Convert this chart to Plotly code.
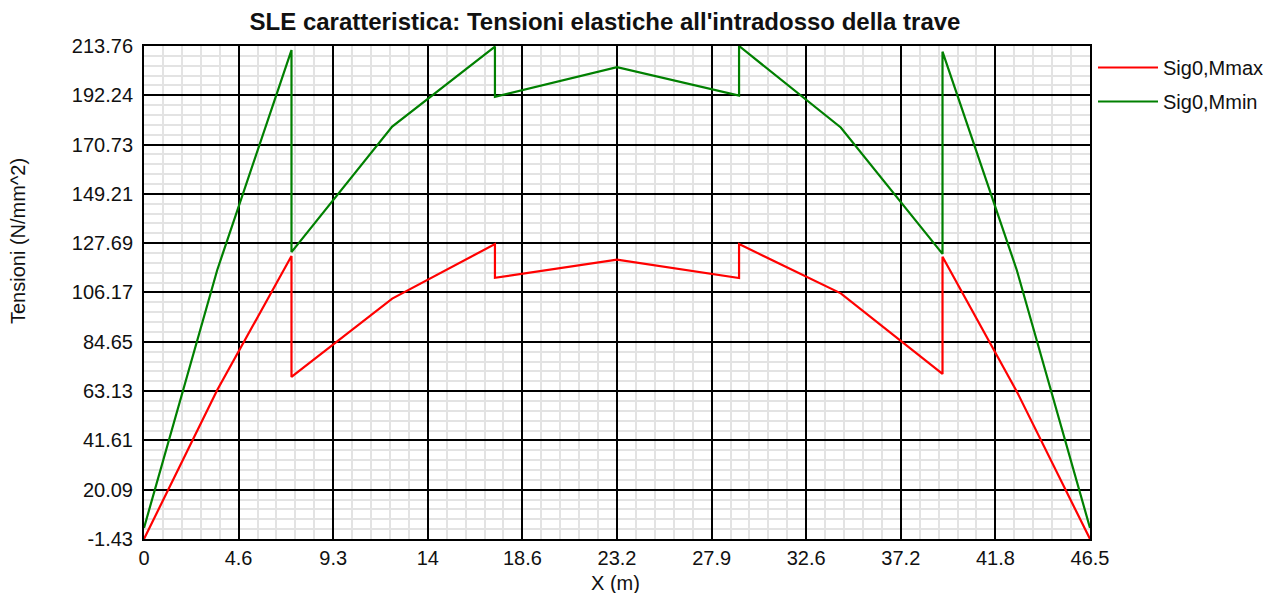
import plotly.graph_objects as go
import numpy as np

# ---- data ----
x_pos = [0, 3.6, 7.25, 7.25, 12.2, 17.25, 17.25, 23.25, 29.25, 29.25, 34.25, 39.25, 39.25, 42.9, 46.5]
sig_mmax = [-1.43, 63.6, 122.1, 69.3, 103.5, 127.3, 112.6, 120.5, 112.5, 127.3, 105.8, 70.6, 121.8, 63.0, -1.43]
sig_mmin = [3.4, 116.0, 212.0, 123.8, 178.6, 213.5, 191.6, 204.5, 192.1, 213.76, 178.2, 123.0, 211.3, 116.0, 3.4]

x_tickvals = [0, 4.65, 9.3, 13.95, 18.6, 23.25, 27.9, 32.55, 37.2, 41.85, 46.5]
x_ticktext = ["0", "4.6", "9.3", "14", "18.6", "23.2", "27.9", "32.6", "37.2", "41.8", "46.5"]
y_ticktext = ["-1.43", "20.09", "41.61", "63.13", "84.65", "106.17", "127.69", "149.21", "170.73", "192.24", "213.76"]
y_tickvals = [float(t) for t in y_ticktext]

title = "SLE caratteristica: Tensioni elastiche all'intradosso della trave"
font_family = "Liberation Sans, Arial, sans-serif"

# minor grid positions (5 subdivisions between major lines)
def minor_between(vals, n=5):
    out = []
    for a, b in zip(vals[:-1], vals[1:]):
        for k in range(1, n):
            out.append(a + (b - a) * k / n)
    return out

x_minor = minor_between(x_tickvals)
y_lo, y_hi = -1.43, 213.76
y_major_even = list(np.linspace(y_lo, y_hi, 11))
y_minor = minor_between(y_major_even)

fig = go.Figure()
fig.add_trace(go.Scatter(x=x_pos, y=sig_mmax, mode="lines", name="Sig0,Mmax",
                         line=dict(color="#ff0000", width=2.2), legendgroup="a"))
fig.add_trace(go.Scatter(x=x_pos, y=sig_mmin, mode="lines", name="Sig0,Mmin",
                         line=dict(color="#008000", width=2.2), legendgroup="b"))

# page body has an 8px margin: compensate
OFF = 8
W, H = 1271 - OFF, 593 - OFF
L, R, T, B = 144 - OFF, 181, 46 - OFF, 54
pw, ph = W - L - R, H - T - B

def px_x(px):  # page px -> paper x
    return (px - OFF - L) / pw

def px_y(py):  # page px -> paper y
    return (H - B - (py - OFF)) / ph

fig.update_layout(
    width=W, height=H,
    margin=dict(l=L, r=R, t=T, b=B, autoexpand=False),
    paper_bgcolor="white", plot_bgcolor="white",
    font=dict(family=font_family, size=20, color="#111111"),
    title=dict(text=title, x=(605 - OFF) / W, xanchor="center", xref="container",
               y=1 - (22 - OFF) / H, yanchor="middle", yref="container",
               font=dict(family=font_family, size=24, color="#111111", weight="bold")),
    showlegend=True,
    legend=dict(x=px_x(1093), xanchor="left", y=px_y(48), yanchor="top",
                font=dict(size=20), itemwidth=60, tracegroupgap=5,
                bgcolor="rgba(0,0,0,0)"),
    xaxis=dict(range=[0, 46.5], tickmode="array", tickvals=x_tickvals, ticktext=x_ticktext,
               showgrid=True, gridcolor="black", gridwidth=2,
               showline=True, linecolor="black", linewidth=2, mirror=True,
               zeroline=False, ticks="",
               tickfont=dict(size=20),
               minor=dict(tickvals=x_minor, showgrid=True, gridcolor="#e3e3e3", gridwidth=1.5)),
    yaxis=dict(range=[y_lo, y_hi], tickmode="array", tickvals=y_tickvals, ticktext=y_ticktext,
               showgrid=True, gridcolor="black", gridwidth=2,
               showline=True, linecolor="black", linewidth=2, mirror=True,
               zeroline=False, ticks="outside", ticklen=5, tickcolor="rgba(0,0,0,0)",
               tickfont=dict(size=20),
               minor=dict(tickvals=y_minor, showgrid=True, gridcolor="#e3e3e3", gridwidth=1.5)),
    annotations=[
        dict(text="Tensioni (N/mm^2)", textangle=-90, xref="paper", yref="paper",
             x=px_x(18), y=px_y(241), xanchor="center", yanchor="middle",
             showarrow=False, font=dict(size=20, family=font_family, color="#111111")),
        dict(text="X (m)", xref="paper", yref="paper",
             x=px_x(615), y=px_y(583), xanchor="center", yanchor="middle",
             showarrow=False, font=dict(size=20, family=font_family, color="#111111")),
    ],
)

fig.write_html("out.html")
